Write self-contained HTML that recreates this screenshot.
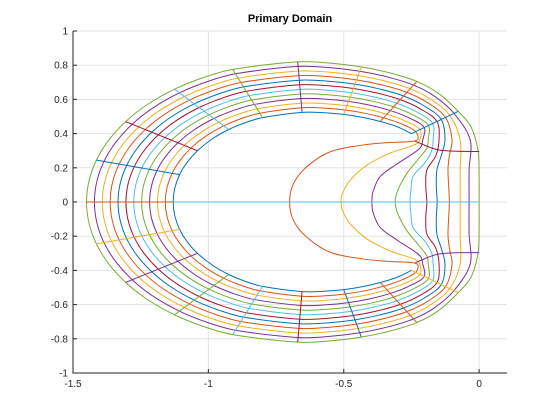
<!DOCTYPE html>
<html><head><meta charset="utf-8"><style>
html,body{margin:0;padding:0;background:#fff}
svg{display:block;font-family:"Liberation Sans",sans-serif}
</style></head><body>
<svg id="chart" width="560" height="420">
<rect x="0" y="0" width="560" height="420" fill="#fff"/>
<text x="290" y="22" text-anchor="middle" font-size="11" font-weight="bold" fill="#000">Primary Domain</text>
<g id="grid"></g><g id="plot"></g><g id="axes"></g>
</svg>
<script>
const xTicks=[-1.5,-1,-0.5,0];
const xTickLabels=["-1.5","-1","-0.5","0"];
const yTicks=[-1,-0.8,-0.6,-0.4,-0.2,0,0.2,0.4,0.6,0.8,1];
const yTickLabels=["-1","-0.8","-0.6","-0.4","-0.2","0","0.2","0.4","0.6","0.8","1"];
// outer-part samples of the inner (blue) and outermost (green) level curves
const innerCurveX=[-1.13,-1.1241,-1.1062,-1.0795,-1.0403,-0.9847,-0.925,-0.865,-0.80,-0.654,-0.577,-0.50,-0.43,-0.365,-0.30,-0.25];
const innerCurveY=[0,0.08,0.16,0.23,0.30,0.37,0.4239,0.4634,0.4937,0.5244,0.523,0.5125,0.495,0.471,0.4385,0.40];
const outerCurveX=[-1.45,-1.4406,-1.4135,-1.3688,-1.3055,-1.2298,-1.125,-1.015,-0.91,-0.67,-0.55,-0.435,-0.33,-0.23,-0.15,-0.077];
const outerCurveY=[0,0.125,0.245,0.36,0.47,0.565,0.6598,0.7297,0.7755,0.8197,0.812,0.79,0.755,0.705,0.635,0.53];
const rayIndex=[0,2,4,6,8,9,11,13,15];
// inner (right-hand) parts of level curves 1..11, upper half
const innerParts=[
[[-0.226,0.368],[-0.25,0.354],[-0.33,0.348],[-0.43,0.333],[-0.55,0.294],[-0.636,0.207],[-0.685,0.11],[-0.70,0]],
[[-0.219,0.363],[-0.235,0.337],[-0.33,0.285],[-0.414,0.216],[-0.476,0.128],[-0.505,0.05],[-0.51,0]],
[[-0.208,0.363],[-0.218,0.315],[-0.30,0.226],[-0.366,0.148],[-0.392,0.06],[-0.396,0]],
[[-0.188,0.363],[-0.193,0.315],[-0.225,0.25],[-0.267,0.167],[-0.30,0.07],[-0.31,0]],
[[-0.17,0.363],[-0.175,0.30],[-0.20,0.23],[-0.244,0.15],[-0.252,0.07],[-0.255,0]],
[[-0.148,0.363],[-0.16,0.27],[-0.193,0.187],[-0.197,0.09],[-0.193,0]],
[[-0.126,0.363],[-0.14,0.27],[-0.156,0.187],[-0.158,0.09],[-0.155,0]],
[[-0.10,0.363],[-0.11,0.27],[-0.115,0.187],[-0.11,0]],
[[-0.07,0.363],[-0.07,0.187],[-0.07,0]],
[[-0.033,0.363],[-0.037,0.187],[-0.037,0]],
[[-0.03,0.44],[-0.004,0.30],[0,0.15],[0,0]]
];
const rightRay=[[-0.236,0.355],[-0.15,0.305],[0,0.295]];
const rayColorsTop=[1,0,6,5,4,3,2,1,0];
const rayColorsBottom=[1,2,3,4,5,6,0,1,2];
const colors=["#0072BD","#D95319","#EDB120","#7E2F8E","#77AC30","#4DBEEE","#A2142F"];

const X0=73,X1=507,Y0=373,Y1=31;
const XMIN=-1.5,XMAX=0.103,YMIN=-1,YMAX=1;
const sx=x=>X0+(x-XMIN)/(XMAX-XMIN)*(X1-X0);
const sy=y=>Y0-(y-YMIN)/(YMAX-YMIN)*(Y0-Y1);
const NS="http://www.w3.org/2000/svg";
function mk(tag,attrs,parent){const e=document.createElementNS(NS,tag);for(const k in attrs)e.setAttribute(k,attrs[k]);parent.appendChild(e);return e;}
const grid=document.getElementById('grid'),plot=document.getElementById('plot'),axes=document.getElementById('axes');

xTicks.forEach((t,i)=>{
  const g=mk('line',{x1:sx(t),x2:sx(t),y1:Y1,y2:Y0,stroke:'#e3e3e3','stroke-width':1},grid);
  
  
  const tk=mk('line',{x1:sx(t),x2:sx(t),y1:Y0,y2:Y0-4,stroke:'#262626'},axes);
  
  
  const tx=mk('text',{x:sx(t),y:Y0+14,'text-anchor':'middle','font-size':10,fill:'#262626'},axes);
  tx.textContent=xTickLabels[i];
  
  
});
yTicks.forEach((t,i)=>{
  const g=mk('line',{x1:X0,x2:X1,y1:sy(t),y2:sy(t),stroke:'#e3e3e3','stroke-width':1},grid);
  
  
  const tk=mk('line',{x1:X0,x2:X0+4,y1:sy(t),y2:sy(t),stroke:'#262626'},axes);
  
  
  const tx=mk('text',{x:X0-5,y:sy(t)+3.5,'text-anchor':'end','font-size':10,fill:'#262626'},axes);
  tx.textContent=yTickLabels[i];
  
  
});
const ax=mk('path',{d:`M${X0},${Y1}V${Y0}H${X1}`,fill:'none',stroke:'#262626'},axes);



function crPath(pts,closed){
  const p=pts.map(q=>[sx(q[0]),sy(q[1])]);const n=p.length;
  let d=`M${p[0][0].toFixed(2)},${p[0][1].toFixed(2)}`;
  const segs=closed?n:n-1;
  const g=j=>closed?p[(j+n)%n]:p[Math.max(0,Math.min(n-1,j))];
  const dist=(u,v)=>Math.hypot(u[0]-v[0],u[1]-v[1])||1e-6;
  for(let i=0;i<segs;i++){
    const a=g(i-1),b=g(i),c=g(i+1),e=g(i+2);
    const dab=dist(a,b),dbc=dist(b,c),dce=dist(c,e);
    const c1=[b[0]+(c[0]-a[0])*dbc/(dab+dbc)/3,b[1]+(c[1]-a[1])*dbc/(dab+dbc)/3];
    const c2=[c[0]-(e[0]-b[0])*dbc/(dbc+dce)/3,c[1]-(e[1]-b[1])*dbc/(dbc+dce)/3];
    d+=`C${c1[0].toFixed(2)},${c1[1].toFixed(2)} ${c2[0].toFixed(2)},${c2[1].toFixed(2)} ${c[0].toFixed(2)},${c[1].toFixed(2)}`;
  }
  return d+(closed?'Z':'');
}
const N=11;
const lerpPt=(t,s)=>[innerCurveX[t]+(outerCurveX[t]-innerCurveX[t])*s, innerCurveY[t]+(outerCurveY[t]-innerCurveY[t])*s];

for(let k=0;k<=N;k++){
  const s=k/N;
  const top=[];for(let t=0;t<innerCurveX.length;t++)top.push(lerpPt(t,s));
  let d;
  if(k===0){
    const bot=top.slice(1).reverse().map(q=>[q[0],-q[1]]);
    d=crPath(bot.concat(top),false);
  }else{
    const half=top.concat(innerParts[k-1]);
    const mir=half.slice(1,half.length-1).reverse().map(q=>[q[0],-q[1]]);
    d=crPath(half.concat(mir),true);
  }
  const el=mk('path',{d:d,fill:'none',stroke:colors[k%7],'stroke-width':1},plot);
  
  
}
function ray(t,sign,col,name){
  const pts=[];for(let k=0;k<=N;k++){const q=lerpPt(t,k/N);pts.push([q[0],sign*q[1]]);}
  const el=mk('path',{d:crPath(pts,false),fill:'none',stroke:colors[col],'stroke-width':1},plot);
  
  
}
for(let r=1;r<rayIndex.length;r++){ray(rayIndex[r],1,rayColorsTop[r],'radial-line-top');ray(rayIndex[r],-1,rayColorsBottom[r],'radial-line-bottom');}
ray(0,1,1,'radial-line-left');
const e1=mk('path',{d:crPath(rightRay,false),fill:'none',stroke:colors[6],'stroke-width':1},plot);


const e2=mk('path',{d:crPath(rightRay.map(q=>[q[0],-q[1]]),false),fill:'none',stroke:colors[3],'stroke-width':1},plot);


const e3=mk('line',{x1:sx(innerCurveX[0]),x2:sx(0),y1:sy(0),y2:sy(0),stroke:colors[5],'stroke-width':1},plot);


</script>
</body></html>
